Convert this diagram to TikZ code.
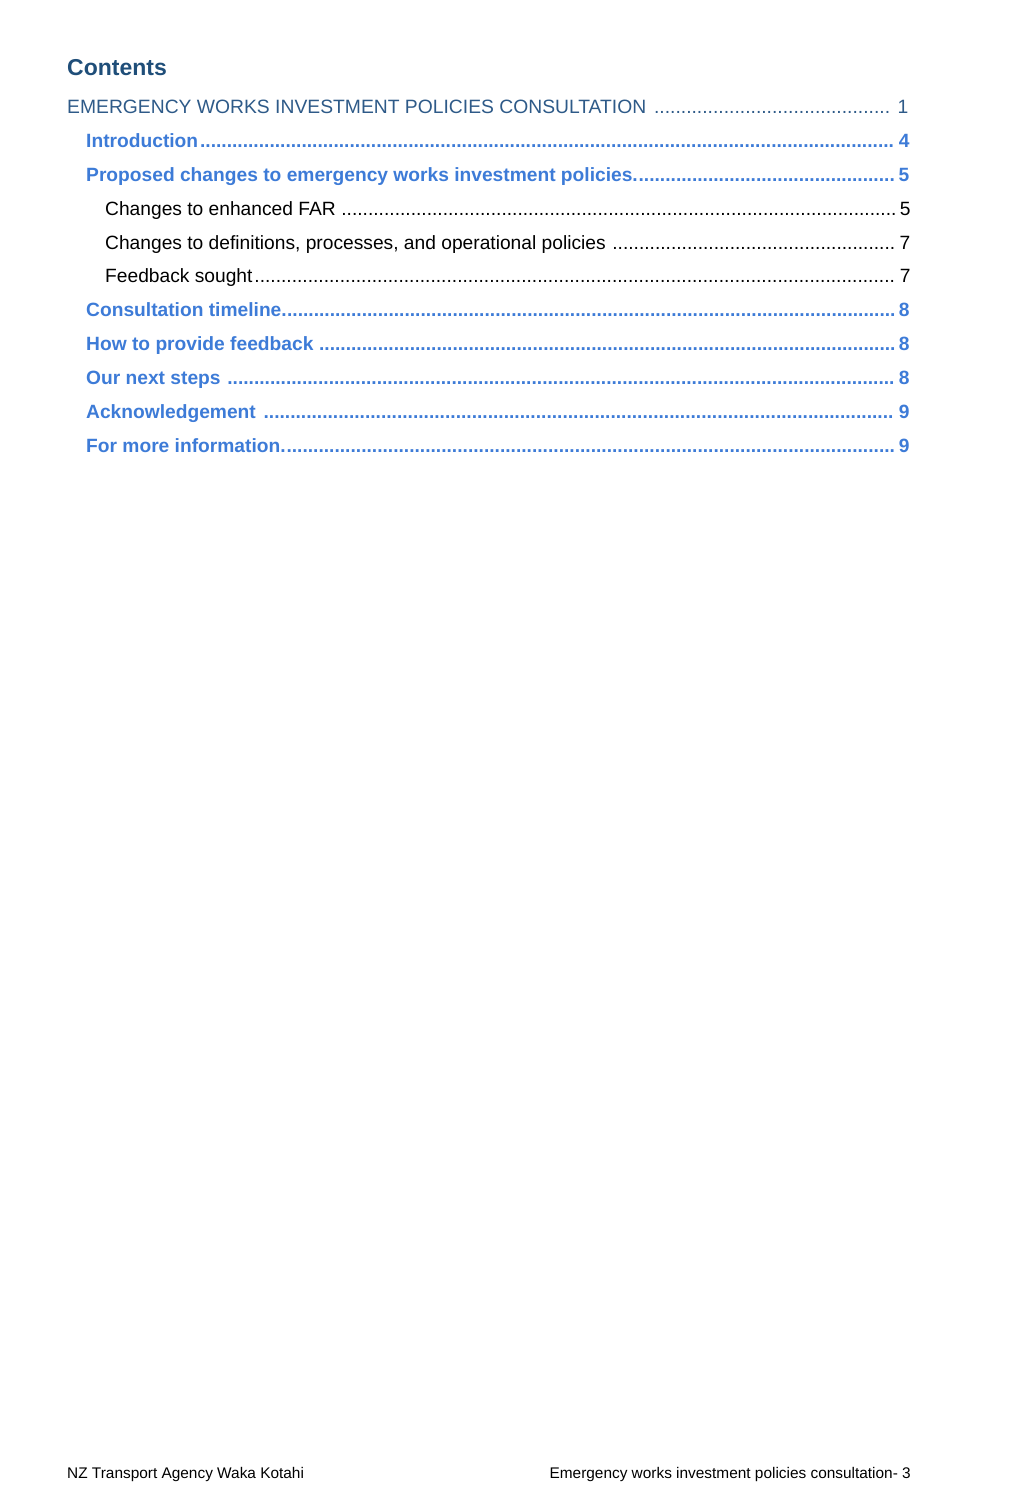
\documentclass[tikz,border=0pt]{standalone}
\usepackage{fontspec}
\setmainfont{Liberation Sans}
\definecolor{contentsblue}{HTML}{1F4E79}
\definecolor{partblue}{HTML}{2E5A88}
\definecolor{secblue}{HTML}{3D7BD7}
\newcommand{\tocdots}{\cleaders\hbox{.}\hfill\kern3pt}
\tikzset{
  tocentry/.style={anchor=base west, inner sep=0pt, font=\fontsize{19.2}{23}\selectfont},
  partentry/.style={tocentry, text=partblue, font=\fontsize{19.3}{23}\selectfont},
  secentry/.style={tocentry, text=secblue, font=\fontsize{19.2}{23}\selectfont\bfseries},
  subentry/.style={tocentry, text=black},
  footer/.style={inner sep=0pt, font=\fontsize{15.4}{18}\selectfont}
}

\begin{document}
\begin{tikzpicture}[x=1pt,y=-1pt]
\useasboundingbox (0,0) rectangle (1033,1505);
\node[anchor=base west, inner sep=0pt, text=contentsblue, font=\fontsize{23}{27}\selectfont\bfseries] (contents) at (67,75) {Contents};
\node[partentry] (part) at (67,113) {\hbox to 841pt{EMERGENCY WORKS INVESTMENT POLICIES CONSULTATION \tocdots\kern2pt 1}};
\node[secentry] (intro) at (86,147) {\hbox to 823pt{Introduction\tocdots 4}};
\node[secentry] (proposed) at (86,181) {\hbox to 823pt{Proposed changes to emergency works investment policies.\tocdots 5}};
\node[subentry] (far) at (105,215) {\hbox to 805pt{Changes to enhanced FAR \tocdots 5}};
\node[subentry] (defs) at (105,249) {\hbox to 805pt{Changes to definitions, processes, and operational policies \tocdots 7}};
\node[subentry] (sought) at (105,282) {\hbox to 805pt{Feedback sought\tocdots 7}};
\node[secentry] (timeline) at (86,316) {\hbox to 823pt{Consultation timeline.\tocdots 8}};
\node[secentry] (howto) at (86,350) {\hbox to 823pt{How to provide feedback \tocdots 8}};
\node[secentry] (next) at (86,384) {\hbox to 823pt{Our next steps \tocdots 8}};
\node[secentry] (ack) at (86,418) {\hbox to 823pt{Acknowledgement \tocdots 9}};
\node[secentry] (info) at (86,452) {\hbox to 823pt{For more information.\tocdots 9}};
% footer
\node[footer, anchor=base west] (agency) at (67,1478) {NZ Transport Agency Waka Kotahi};
\node[footer, anchor=base east] (pageno) at (911,1478) {Emergency works investment policies consultation- 3};
\end{tikzpicture}
\end{document}
